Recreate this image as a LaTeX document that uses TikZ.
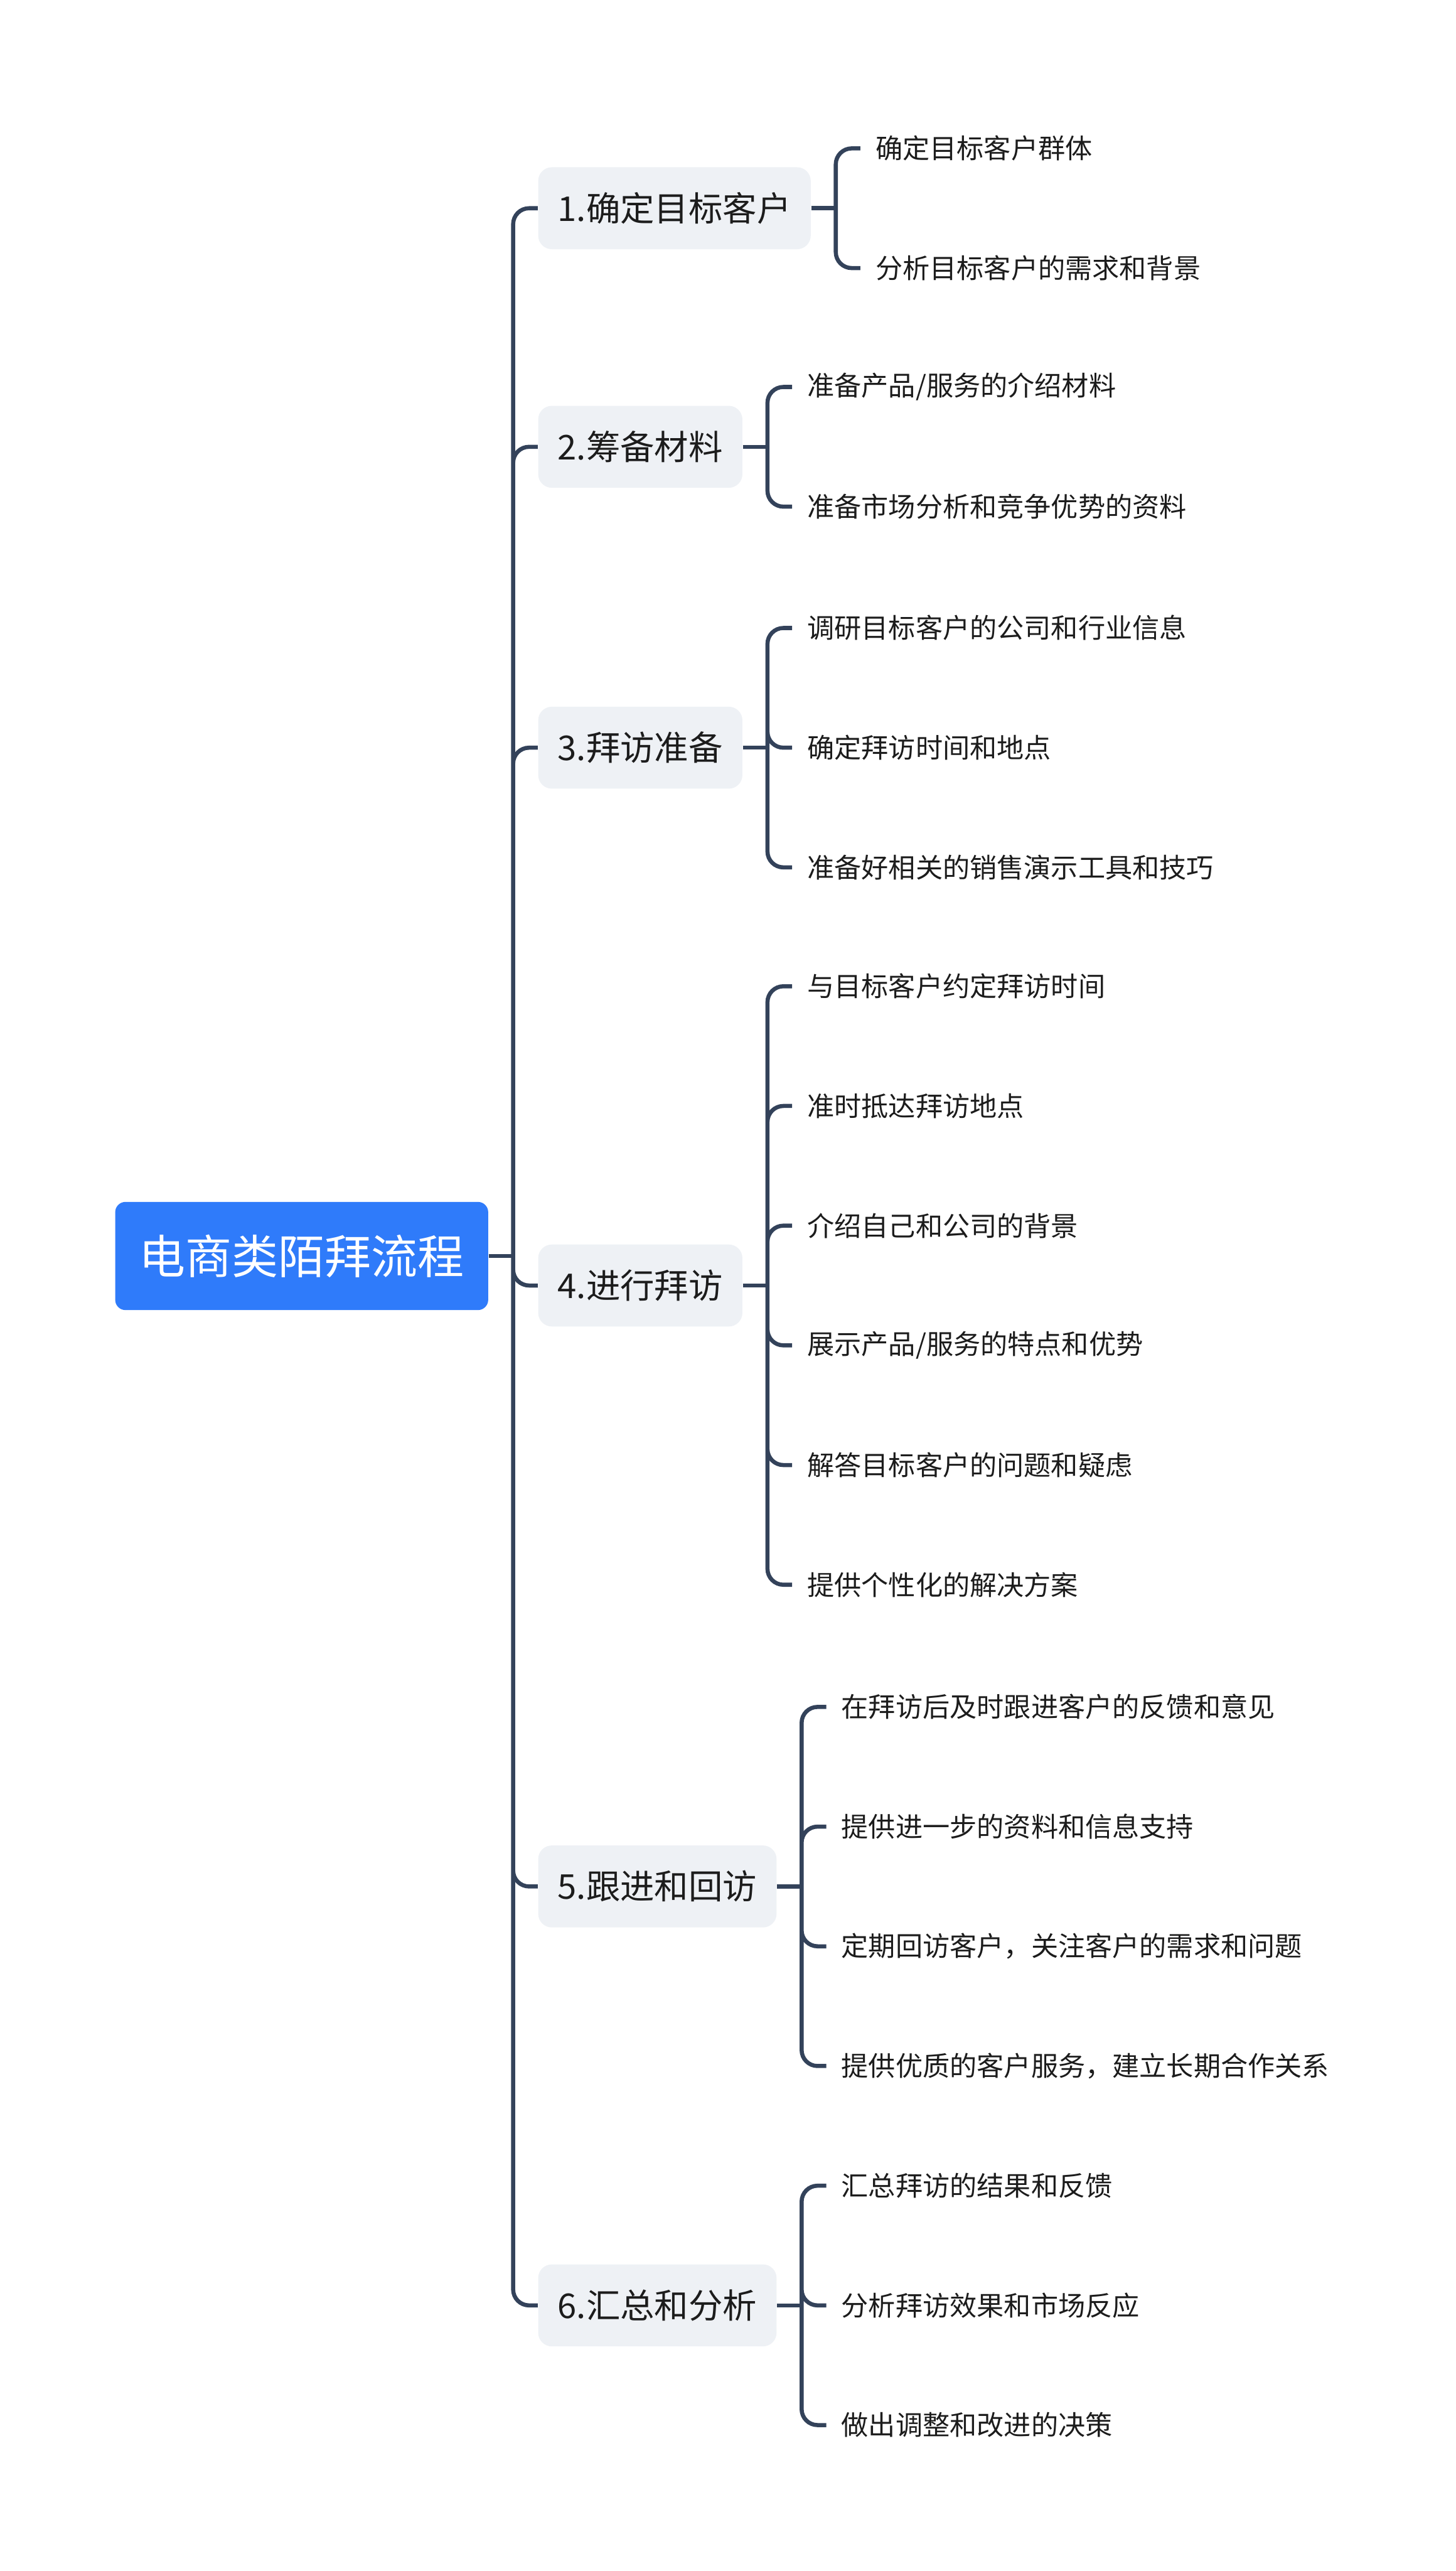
\documentclass[tikz,border=0pt]{standalone}
\usepackage{fontspec}
\setmainfont{Noto Sans CJK SC}
\usepackage{xcolor}
\usepackage{tikz}
\usetikzlibrary{positioning}

\definecolor{rootblue}{HTML}{2F7BFA}
\definecolor{branchgray}{HTML}{EEF1F5}
\definecolor{linkslate}{HTML}{33425A}
\definecolor{inkdark}{HTML}{1C1C1C}

\begin{document}
\begin{tikzpicture}[
  x=0.72pt, y=0.72pt,
  node distance=52.56pt,
  mainnode/.style={rectangle, fill=rootblue, rounded corners=4.5pt, minimum height=47.5pt, inner xsep=10.5pt, anchor=west, text=white, font=\fontsize{20.4}{24}\selectfont},
  branchnode/.style={rectangle, fill=branchgray, rounded corners=6pt, minimum height=36pt, inner xsep=8.6pt, anchor=west, text=inkdark, font=\fontsize{15}{18}\selectfont},
  leafnode/.style={rectangle, inner xsep=6.5pt, inner ysep=2pt, text=inkdark, font=\fontsize{11.9}{14}\selectfont},
  conn/.style={draw=linkslate, line width=1.8pt, rounded corners=7pt}
]
  \useasboundingbox (0,0) rectangle (888,-1568);

  % root and main topics
  \node[mainnode] (root) at (70,-766) {电商类陌拜流程};
  \coordinate (hub) at (313,-766);
  \node[branchnode] (b1) at (328,-127) {1.确定目标客户};
  \node[branchnode] (b2) at (328,-272.5) {2.筹备材料};
  \node[branchnode] (b3) at (328,-456) {3.拜访准备};
  \node[branchnode] (b4) at (328,-784) {4.进行拜访};
  \node[branchnode] (b5) at (328,-1150.5) {5.跟进和回访};
  \node[branchnode] (b6) at (328,-1406) {6.汇总和分析};

  % leaves
  \node[leafnode, right=21.6pt of b1.east, yshift=26.28pt] (l11) {确定目标客户群体};
  \node[leafnode, below=of l11.west, anchor=west] (l12) {分析目标客户的需求和背景};

  \node[leafnode, right=21.6pt of b2.east, yshift=26.28pt] (l21) {准备产品/服务的介绍材料};
  \node[leafnode, below=of l21.west, anchor=west] (l22) {准备市场分析和竞争优势的资料};

  \node[leafnode, right=21.6pt of b3.east, yshift=52.56pt] (l31) {调研目标客户的公司和行业信息};
  \node[leafnode, below=of l31.west, anchor=west] (l32) {确定拜访时间和地点};
  \node[leafnode, below=of l32.west, anchor=west] (l33) {准备好相关的销售演示工具和技巧};

  \node[leafnode, right=21.6pt of b4.east, yshift=131.4pt] (l41) {与目标客户约定拜访时间};
  \node[leafnode, below=of l41.west, anchor=west] (l42) {准时抵达拜访地点};
  \node[leafnode, below=of l42.west, anchor=west] (l43) {介绍自己和公司的背景};
  \node[leafnode, below=of l43.west, anchor=west] (l44) {展示产品/服务的特点和优势};
  \node[leafnode, below=of l44.west, anchor=west] (l45) {解答目标客户的问题和疑虑};
  \node[leafnode, below=of l45.west, anchor=west] (l46) {提供个性化的解决方案};

  \node[leafnode, right=21.6pt of b5.east, yshift=78.84pt] (l51) {在拜访后及时跟进客户的反馈和意见};
  \node[leafnode, below=of l51.west, anchor=west] (l52) {提供进一步的资料和信息支持};
  \node[leafnode, below=of l52.west, anchor=west] (l53) {定期回访客户，关注客户的需求和问题};
  \node[leafnode, below=of l53.west, anchor=west] (l54) {提供优质的客户服务，建立长期合作关系};

  \node[leafnode, right=21.6pt of b6.east, yshift=52.56pt] (l61) {汇总拜访的结果和反馈};
  \node[leafnode, below=of l61.west, anchor=west] (l62) {分析拜访效果和市场反应};
  \node[leafnode, below=of l62.west, anchor=west] (l63) {做出调整和改进的决策};

  % connectors
  \draw[conn] (root.east) -- (hub);
  \draw[conn] (hub) |- (b1.west) (hub) |- (b2.west) (hub) |- (b3.west)
    (hub) |- (b4.west) (hub) |- (b5.west) (hub) |- (b6.west);

  \draw[conn] (b1.east) -- ++(15,0) coordinate (f1);
  \draw[conn] (f1) |- (l11.west) (f1) |- (l12.west);
  \draw[conn] (b2.east) -- ++(15,0) coordinate (f2);
  \draw[conn] (f2) |- (l21.west) (f2) |- (l22.west);
  \draw[conn] (b3.east) -- ++(15,0) coordinate (f3);
  \draw[conn] (f3) |- (l31.west) (f3) |- (l32.west) (f3) |- (l33.west);
  \draw[conn] (b4.east) -- ++(15,0) coordinate (f4);
  \draw[conn] (f4) |- (l41.west) (f4) |- (l42.west) (f4) |- (l43.west)
    (f4) |- (l44.west) (f4) |- (l45.west) (f4) |- (l46.west);
  \draw[conn] (b5.east) -- ++(15,0) coordinate (f5);
  \draw[conn] (f5) |- (l51.west) (f5) |- (l52.west) (f5) |- (l53.west) (f5) |- (l54.west);
  \draw[conn] (b6.east) -- ++(15,0) coordinate (f6);
  \draw[conn] (f6) |- (l61.west) (f6) |- (l62.west) (f6) |- (l63.west);
\end{tikzpicture}
\end{document}
